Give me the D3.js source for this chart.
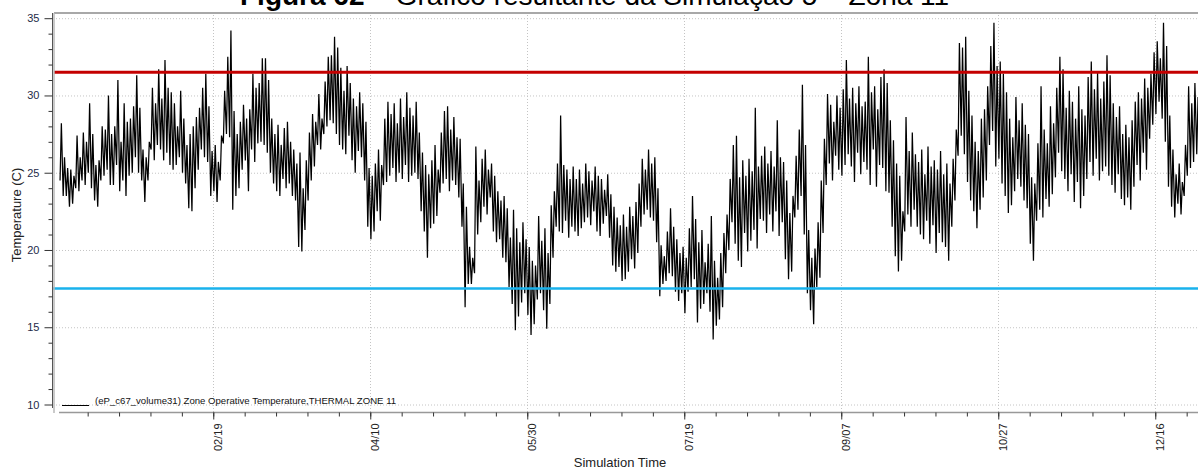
<!DOCTYPE html>
<html>
<head>
<meta charset="utf-8">
<script src="https://cdn.jsdelivr.net/npm/d3@7"></script>
<style>
body { margin: 0; background: #fff; }
svg { display: block; font-family: "Liberation Sans", Arial, sans-serif; }
</style>
</head>
<body>
<svg width="1198" height="470"></svg>
<script>
// daily max / min of the zone operative temperature (day 0 = Jan 1)
var tMax = [
  28.2, 26.0, 25.3, 25.2, 24.8, 27.4, 26.0, 27.6, 27.0, 29.5,
  27.5, 25.5, 25.8, 28.0, 27.8, 30.0, 27.5, 28.0, 31.0, 27.0,
  29.5, 28.3, 28.5, 29.3, 31.3, 29.2, 26.5, 26.0, 27.0, 30.5,
  29.5, 31.7, 29.8, 32.3, 30.5, 30.2, 29.5, 28.0, 30.3, 28.5,
  26.8, 27.5, 28.0, 28.6, 29.2, 30.5, 31.4, 29.3, 26.4, 26.8,
  25.7, 27.4, 30.3, 32.5, 34.2, 29.0, 27.5, 28.3, 29.4, 28.5,
  29.1, 31.4, 30.5, 30.8, 32.4, 32.4, 31.0, 28.5, 27.5, 28.1,
  26.8, 27.9, 28.3, 27.0, 26.5, 25.6, 26.3, 24.0, 25.8, 27.6,
  28.8, 28.3, 30.1, 28.5, 30.9, 32.5, 32.6, 33.8, 33.1, 31.8,
  30.3, 31.9, 30.8, 29.8, 29.3, 30.2,
  29.5, 28.3, 25.3, 24.8, 25.6, 26.5, 25.5, 28.5, 29.6, 28.8,
  29.5, 28.2, 29.8, 28.6, 30.2, 29.2, 28.7, 29.6, 27.6, 26.3,
  25.5, 24.9, 25.8, 26.8, 25.2, 27.6, 29.0, 29.3, 27.8, 28.6,
  27.3, 27.2, 24.3, 22.8, 20.2, 19.5, 26.7, 24.5, 25.9, 26.5,
  25.2, 25.6, 24.8, 23.8, 23.2, 23.5, 22.7, 20.8, 22.6, 21.4,
  20.5, 21.8, 20.7, 20.2, 19.3, 19.0, 22.2, 20.6, 21.4, 19.8,
  22.9, 23.8, 25.6, 28.7, 25.5, 25.2, 24.6, 25.4, 24.6, 25.2,
  24.3, 25.6, 25.1, 24.5, 25.4, 24.8, 24.6, 23.9, 24.9, 23.6,
  22.8, 22.1, 21.6, 22.3, 21.5, 22.8, 22.2, 23.1, 24.3, 25.9,
  25.2, 26.5, 25.6, 26.0, 24.0, 20.3, 19.6, 21.2, 22.7, 21.5,
  20.7, 19.8, 20.2, 19.5, 21.4, 23.5, 22.0, 20.5, 21.3, 19.2,
  20.4, 22.2, 19.3, 18.2, 19.8, 21.1, 22.3, 24.6, 26.8, 27.4,
  24.7, 25.8, 24.8, 25.9, 25.1, 29.2, 25.4, 26.1, 26.7, 25.6,
  26.4, 25.4, 28.4, 26.0, 25.7, 24.5, 22.4, 23.5, 26.1, 27.8,
  30.7, 26.8, 21.3, 19.5, 20.1, 21.8, 24.5, 27.2, 30.1, 29.4,
  28.3, 30.0, 29.2, 30.4, 32.3, 29.8, 30.5, 29.5, 30.6, 29.3,
  29.6, 32.5, 30.2, 30.6, 29.1, 31.2, 31.7, 30.8, 28.4, 27.1,
  25.6, 24.8, 22.5, 28.6, 26.4, 27.6, 26.2, 25.7, 26.5, 24.9,
  26.7, 25.4, 25.8, 25.2, 26.4, 24.9, 25.6, 24.3, 25.9, 27.8,
  33.4, 33.1, 33.8, 30.3, 28.7, 27.0, 26.4, 28.5, 29.1, 30.6,
  33.2, 34.7, 31.9, 32.2, 31.4, 30.2, 28.5, 27.3, 29.9, 28.4,
  29.5, 28.1, 27.5, 24.7, 24.3, 26.9, 30.6, 27.8, 26.9, 29.3,
  28.2, 30.5, 32.5, 31.7, 29.2, 30.3, 29.6, 28.5, 30.6, 29.1,
  28.7, 31.2, 32.2, 30.4, 31.5, 29.8, 30.9, 32.6, 31.3, 29.5,
  28.6, 29.3, 27.5, 28.1, 27.3, 28.4, 29.6, 30.2, 29.8, 31.1,
  30.5, 31.4, 32.8, 33.5, 32.4, 34.7, 33.2, 28.7, 26.5, 24.9,
  25.6, 24.4, 26.8, 30.6, 29.5, 30.8, 29.9, 30.4
];
var tMin = [
  24.5, 23.5, 23.5, 22.8, 23.0, 24.0, 23.8, 24.5, 24.2, 25.0,
  24.0, 23.2, 22.8, 24.5, 24.8, 25.2, 24.2, 24.2, 25.5, 23.8,
  24.5, 23.5, 24.8, 25.0, 26.0, 25.0, 24.5, 23.1, 24.5, 26.5,
  25.8, 26.8, 26.5, 25.8, 26.3, 25.5, 25.2, 25.5, 26.0, 25.0,
  24.3, 22.7, 22.5, 24.0, 25.2, 26.5, 26.0, 25.7, 23.5, 23.8,
  23.1, 24.5, 26.9, 27.5, 27.3, 22.6, 23.5, 24.0, 25.2, 25.8,
  23.8, 26.5, 25.7, 26.9, 27.0, 26.8, 26.3, 25.0, 24.3, 23.8,
  23.5, 24.6, 24.0, 24.3, 23.5, 23.2, 20.2, 19.9, 21.3, 23.2,
  24.5, 25.4, 26.8, 26.5, 27.5, 28.0, 28.4, 28.2, 27.5, 26.8,
  26.5, 26.2, 27.4, 25.8, 25.0, 26.4,
  26.0, 24.5, 21.5, 20.7, 21.2, 22.5, 21.9, 24.2, 24.4, 24.8,
  25.3, 24.4, 25.0, 24.6, 25.5, 24.4, 24.8, 25.0, 24.6, 22.5,
  21.2, 19.5, 21.4, 21.7, 22.2, 23.7, 24.3, 24.6, 23.8, 24.5,
  24.2, 23.4, 21.5, 16.3, 17.8, 17.8, 18.5, 21.0, 21.8, 22.8,
  22.3, 23.4, 21.2, 20.5, 20.7, 19.5, 19.2, 17.6, 16.5, 14.8,
  15.7, 16.6, 17.2, 15.8, 14.5, 15.2, 16.8, 17.2, 16.1, 14.9,
  16.5, 19.5, 21.5, 21.2, 21.1, 21.9, 20.8, 21.5, 21.2, 20.9,
  21.4, 21.8, 22.1, 21.6, 22.5, 21.2, 20.9, 21.7, 22.2, 20.8,
  19.0, 18.6, 18.9, 18.0, 18.1, 18.6, 19.4, 18.8, 19.8, 21.5,
  22.3, 22.6, 22.1, 21.9, 20.5, 17.0, 17.8, 18.0, 18.5, 18.3,
  17.3, 16.7, 17.2, 15.9, 17.3, 17.6, 18.1, 15.3, 16.2, 16.5,
  17.2, 16.0, 14.2, 15.1, 15.5, 16.3, 18.5, 20.0, 21.8, 20.4,
  19.3, 18.9, 21.1, 19.9, 20.6, 21.3, 20.1, 22.0, 21.9, 21.1,
  22.3, 21.2, 22.5, 20.9, 21.8, 19.4, 18.1, 18.6, 22.1, 22.6,
  23.5, 21.0, 17.2, 16.1, 15.2, 17.6, 18.2, 21.1, 24.2, 25.6,
  24.5, 26.1, 25.2, 24.8, 25.5, 26.2, 25.4, 24.4, 26.3, 24.9,
  25.7, 25.2, 24.2, 26.5, 24.1, 25.5, 25.3, 23.8, 23.7, 21.5,
  19.6, 18.6, 19.3, 21.2, 22.3, 21.5, 22.6, 21.5, 21.0, 20.7,
  21.9, 20.4, 21.6, 19.8, 21.1, 20.5, 20.2, 19.3, 21.5, 23.2,
  26.1, 27.4, 26.2, 24.4, 23.2, 22.5, 21.4, 22.6, 23.4, 24.5,
  26.8, 27.7, 25.4, 25.9, 24.3, 23.5, 22.4, 22.9, 23.8, 24.6,
  24.1, 23.2, 22.7, 20.4, 19.3, 21.9, 22.6, 22.1, 23.3, 22.8,
  23.6, 24.7, 26.3, 25.1, 24.6, 23.8, 24.9, 23.1, 24.4, 22.7,
  23.5, 24.6, 25.7, 24.8, 25.9, 24.5, 25.1, 25.4, 24.8, 24.2,
  23.7, 24.9, 23.3, 22.9, 23.4, 22.6, 24.1, 25.5, 24.5, 26.3,
  25.2, 27.2, 28.1, 28.8, 29.6, 28.5, 27.0, 24.1, 22.8, 22.1,
  23.0, 22.3, 23.5, 24.8, 25.3, 25.7, 26.2, 25.9
];
var yTicks = [10, 15, 20, 25, 30, 35];
var dateLabels = ["02/19", "04/10", "05/30", "07/19", "09/07", "10/27", "12/16"];
var upperLimit = 31.5, lowerLimit = 17.5;
var seriesName = "(eP_c67_volume31) Zone Operative Temperature,THERMAL ZONE 11";

var svg = d3.select("svg"),
    plot = {left: 54, right: 1198, top: 13, bottom: 413};

var start = new Date(Date.UTC(2017, 0, 1));
var x = d3.scaleUtc()
    .domain([start, d3.utcDay.offset(start, 365)])
    .range([59.4, 59.4 + 365 * 3.14]);
var y = d3.scaleLinear()
    .domain([10, 35])
    .range([404.5, 18.2]);

var xMajor = dateLabels.map(function(s) {
  var p = s.split("/");
  return new Date(Date.UTC(2017, +p[0] - 1, +p[1]));
});
var xMinor = d3.range(9, 365, 10).map(function(d) { return d3.utcDay.offset(start, d); });
var yMinor = d3.range(10, 35.01, 1).filter(function(v) { return v % 5 !== 0; });

// points: daily low in the early morning, daily high in the afternoon
var points = [];
tMax.forEach(function(v, i) {
  var day = d3.utcDay.offset(start, i);
  points.push({t: d3.utcHour.offset(day, 5), v: tMin[i]});
  points.push({t: d3.utcHour.offset(day, 15), v: v});
});

svg.append("defs").append("clipPath").attr("id", "clip")
  .append("rect")
    .attr("x", plot.left).attr("y", plot.top)
    .attr("width", plot.right - plot.left).attr("height", plot.bottom - plot.top);

// dotted grid
var grid = svg.append("g").attr("stroke", "#c4c4c4").attr("stroke-dasharray", "1,2");
grid.selectAll("line.h")
  .data(yTicks)
  .enter().append("line")
    .attr("x1", plot.left + 2).attr("x2", plot.right)
    .attr("y1", function(d) { return y(d) + 0.5; })
    .attr("y2", function(d) { return y(d) + 0.5; });
grid.selectAll("line.v")
  .data(xMajor)
  .enter().append("line")
    .attr("x1", function(d) { return Math.round(x(d)) + 0.5; })
    .attr("x2", function(d) { return Math.round(x(d)) + 0.5; })
    .attr("y1", plot.top + 2).attr("y2", plot.bottom);

// temperature series
svg.append("path")
    .datum(points)
    .attr("clip-path", "url(#clip)")
    .attr("fill", "none")
    .attr("stroke", "#000")
    .attr("stroke-width", 1.25)
    .attr("d", d3.line()
      .x(function(d) { return x(d.t); })
      .y(function(d) { return y(d.v); }));

// comfort limits
svg.append("line")
    .attr("x1", plot.left).attr("x2", plot.right)
    .attr("y1", y(upperLimit)).attr("y2", y(upperLimit))
    .attr("stroke", "#c40000").attr("stroke-width", 3);
svg.append("line")
    .attr("x1", plot.left - 2).attr("x2", plot.right)
    .attr("y1", y(lowerLimit)).attr("y2", y(lowerLimit))
    .attr("stroke", "#19b2ec").attr("stroke-width", 2.5);

// frame
svg.append("line")
    .attr("x1", plot.left).attr("x2", plot.right)
    .attr("y1", plot.top).attr("y2", plot.top)
    .attr("stroke", "#a8a8a8").attr("stroke-width", 2);
svg.append("line")
    .attr("x1", plot.left).attr("x2", plot.left)
    .attr("y1", plot.top).attr("y2", plot.bottom)
    .attr("stroke", "#b8b8b8").attr("stroke-width", 1.5);
svg.append("line")
    .attr("x1", 52.5).attr("x2", 52.5)
    .attr("y1", plot.top).attr("y2", 408)
    .attr("stroke", "#555");

// y axis
svg.append("g")
    .attr("transform", "translate(52.5,0)")
    .call(d3.axisLeft(y).tickValues(yMinor).tickSize(4).tickFormat(""))
    .call(function(g) { g.select(".domain").remove(); })
    .selectAll("line").attr("stroke", "#333");
var yAxis = svg.append("g")
    .attr("transform", "translate(52.5,0)")
    .call(d3.axisLeft(y).tickValues(yTicks).tickSize(8).tickPadding(5).tickFormat(d3.format("d")))
    .call(function(g) { g.select(".domain").remove(); });
yAxis.selectAll("line").attr("stroke", "#333");
yAxis.selectAll("text")
    .attr("fill", "#1e2a48")
    .attr("font-size", 11)
    .attr("font-family", "Liberation Sans, Arial, sans-serif");

// x axis
svg.append("g")
    .attr("transform", "translate(0," + (plot.bottom - 0.5) + ")")
    .call(d3.axisBottom(x).tickValues(xMinor).tickSize(4).tickFormat(""))
    .call(function(g) {
      g.select(".domain").attr("stroke", "#999").attr("stroke-width", 1.5)
        .attr("d", "M59,0H" + plot.right);
    })
    .selectAll(".tick line").attr("stroke", "#333");
var xAxis = svg.append("g")
    .attr("transform", "translate(0," + (plot.bottom - 0.5) + ")")
    .call(d3.axisBottom(x).tickValues(xMajor).tickSize(7)
      .tickFormat(function(d, i) { return dateLabels[i]; }))
    .call(function(g) { g.select(".domain").remove(); });
xAxis.selectAll("line").attr("stroke", "#333");
xAxis.selectAll("text")
    .attr("fill", "#222")
    .attr("font-size", 11)
    .attr("font-family", "Liberation Sans, Arial, sans-serif")
    .attr("text-anchor", "end")
    .attr("x", 0).attr("y", 0).attr("dy", 0)
    .attr("transform", "translate(8.5,11) rotate(-90)");

// axis titles
svg.append("text")
    .attr("transform", "translate(21,215) rotate(-90)")
    .attr("text-anchor", "middle")
    .attr("font-size", 13)
    .attr("fill", "#222")
    .text("Temperature (C)");
svg.append("text")
    .attr("x", 620).attr("y", 467)
    .attr("text-anchor", "middle")
    .attr("font-size", 13)
    .attr("fill", "#222")
    .text("Simulation Time");

// legend
svg.append("line")
    .attr("x1", 62).attr("x2", 89)
    .attr("y1", 405.5).attr("y2", 405.5)
    .attr("stroke", "#000").attr("stroke-width", 1);
svg.append("text")
    .attr("x", 95).attr("y", 404)
    .attr("font-size", 9.6)
    .attr("fill", "#111")
    .text(seriesName);

// title, cut off by the top edge as in the source figure
var title = svg.append("text")
    .attr("x", 240).attr("y", 5)
    .attr("font-size", 28)
    .attr("fill", "#000");
title.append("tspan").attr("font-weight", "bold").text("Figura 62");
title.append("tspan").text(" \u2013 Gráfico resultante da Simulação 5 \u2013 Zona 11");
</script>
</body>
</html>
